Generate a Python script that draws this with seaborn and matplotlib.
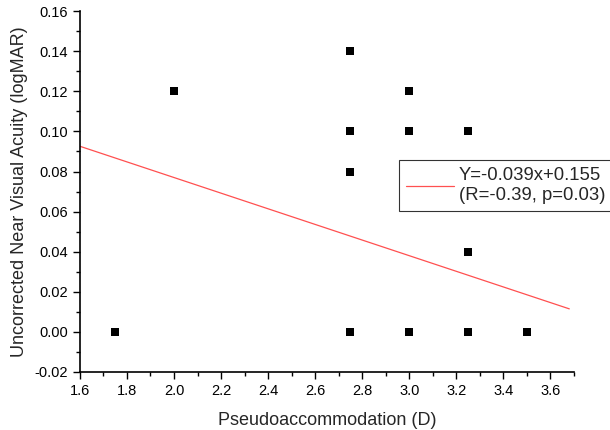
import numpy as np
import pandas as pd
import matplotlib.pyplot as plt
import seaborn as sb
from matplotlib.ticker import MultipleLocator

# Data
pseudoaccommodation = [1.75, 2.0, 2.75, 2.75, 2.75, 2.75, 3.0, 3.0, 3.0, 3.25, 3.25, 3.25, 3.5]
near_va = [0.00, 0.12, 0.14, 0.10, 0.08, 0.00, 0.12, 0.10, 0.00, 0.10, 0.04, 0.00, 0.00]

# Regression line
slope = -0.039
intercept = 0.155
fit_x = [1.6, 3.68]
fit_label = "Y=-0.039x+0.155\n(R=-0.39, p=0.03)"

data = pd.DataFrame({'x': pseudoaccommodation, 'y': near_va})
fit = pd.DataFrame({'x': fit_x, 'y': [slope * v + intercept for v in fit_x]})

sb.set_style("ticks")
plt.rcParams['font.family'] = ['Liberation Sans', 'DejaVu Sans']

fig = plt.figure(figsize=(6.1, 4.3), dpi=100)
ax = fig.add_axes([0.131, 0.135, 0.81, 0.839])

sb.scatterplot(data=data, x='x', y='y', marker='s', s=28, color='black',
               edgecolor='black', linewidth=0, ax=ax, legend=False)
sb.lineplot(data=fit, x='x', y='y', color='#ff5050', linewidth=0.9, ax=ax,
            label=fit_label)

ax.set_xlim(1.6, 3.7)
ax.set_ylim(-0.02, 0.16)
ax.xaxis.set_major_locator(MultipleLocator(0.2))
ax.xaxis.set_minor_locator(MultipleLocator(0.1))
ax.yaxis.set_major_locator(MultipleLocator(0.02))
ax.yaxis.set_minor_locator(MultipleLocator(0.01))
ax.xaxis.set_major_formatter(plt.FormatStrFormatter('%.1f'))
ax.yaxis.set_major_formatter(plt.FormatStrFormatter('%.2f'))
ax.tick_params(which='major', direction='out', length=5, width=1, labelsize=10.5, colors='black')
ax.tick_params(which='minor', direction='out', length=3, width=1, colors='black')

sb.despine(ax=ax)
for s in ['left', 'bottom']:
    ax.spines[s].set_linewidth(1.2)
    ax.spines[s].set_color('black')

ax.set_xlabel("Pseudoaccommodation (D)", fontsize=13, labelpad=10)
ax.set_ylabel("Uncorrected Near Visual Acuity (logMAR)", fontsize=13, labelpad=5)

leg = ax.legend(loc='upper left', bbox_to_anchor=(0.654, 0.628),
                bbox_transform=fig.transFigure, fontsize=13.3, frameon=True,
                fancybox=False, handlelength=2.6, borderpad=0.4,
                handletextpad=0.25, borderaxespad=0)
leg.get_frame().set_edgecolor('black')
leg.get_frame().set_linewidth(0.8)

plt.savefig('out.png', dpi=100)
